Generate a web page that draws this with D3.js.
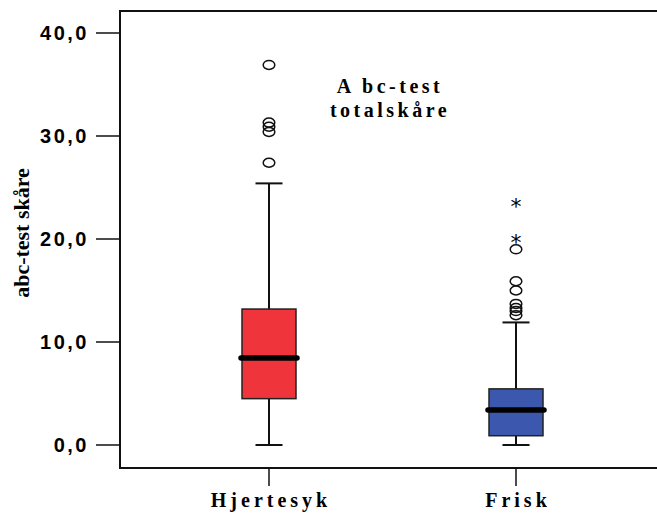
<!DOCTYPE html>
<html>
<head>
<meta charset="utf-8">
<script src="https://cdn.jsdelivr.net/npm/d3@7"></script>
<style>
body { margin: 0; background: #fff; }
</style>
</head>
<body>
<svg width="657" height="514"></svg>
<script>
var svg = d3.select("svg");

// Data
var groups = ["Hjertesyk", "Frisk"];
var q1 = [4.5, 0.9];
var medians = [8.45, 3.4];
var q3 = [13.2, 5.45];
var whiskLow = [0, 0];
var whiskHigh = [25.4, 11.9];
var outliers = [
    [27.4, 30.4, 30.9, 31.3, 36.9],
    [12.6, 13.0, 13.3, 13.7, 15.0, 15.9, 19.0]
];
var extremes = [
    [],
    [20.0, 23.5]
];
var yTicks = [0, 10, 20, 30, 40];
var colors = ["#f0343c", "#3c58ae"];

var plotLeft = 120, plotTop = 11, plotBottom = 468;

var y = d3.scaleLinear().domain([0, 40]).range([445, 33]);
var x = d3.scalePoint().domain(groups).range([269, 516]);

// frame (right edge runs off the page)
svg.append("path")
    .attr("d", "M660," + plotTop + "H" + plotLeft + "V" + plotBottom + "H660")
    .attr("fill", "none")
    .attr("stroke", "#111")
    .attr("stroke-width", 2);

// y axis
var yAxis = svg.append("g");
yAxis.selectAll("line")
    .data(yTicks)
    .enter()
    .append("line")
    .attr("x1", 96)
    .attr("x2", plotLeft)
    .attr("y1", function(d) { return y(d); })
    .attr("y2", function(d) { return y(d); })
    .attr("stroke", "#111")
    .attr("stroke-width", 1.5);
yAxis.selectAll("text")
    .data(yTicks)
    .enter()
    .append("text")
    .attr("x", 89)
    .attr("y", function(d) { return y(d) + 7; })
    .attr("text-anchor", "end")
    .style("font-family", "'Liberation Sans', Arial, sans-serif")
    .style("font-weight", "bold")
    .style("font-size", "20px")
    .style("letter-spacing", "2.5px")
    .text(function(d) { return d.toFixed(1).replace(".", ","); });

svg.append("text")
    .attr("transform", "translate(29,233) rotate(-90)")
    .attr("text-anchor", "middle")
    .style("font-family", "'Liberation Serif', 'Times New Roman', serif")
    .style("font-weight", "bold")
    .style("font-size", "22px")
    .text("abc-test skåre");

// x axis
var xAxis = svg.append("g");
xAxis.selectAll("line")
    .data(groups)
    .enter()
    .append("line")
    .attr("x1", function(d) { return x(d); })
    .attr("x2", function(d) { return x(d); })
    .attr("y1", plotBottom)
    .attr("y2", 486)
    .attr("stroke", "#111")
    .attr("stroke-width", 1.5);
xAxis.selectAll("text")
    .data(groups)
    .enter()
    .append("text")
    .attr("x", function(d) { return x(d) + 2; })
    .attr("y", 507)
    .attr("text-anchor", "middle")
    .style("font-family", "'Liberation Serif', 'Times New Roman', serif")
    .style("font-weight", "bold")
    .style("font-size", "20px")
    .style("letter-spacing", "4px")
    .text(function(d) { return d; });

// title
var title = svg.append("text")
    .attr("text-anchor", "middle")
    .style("font-family", "'Liberation Serif', 'Times New Roman', serif")
    .style("font-weight", "bold")
    .style("font-size", "20px")
    .style("letter-spacing", "3.5px");
title.append("tspan").attr("x", 390).attr("y", 93).text("A bc-test");
title.append("tspan").attr("x", 390).attr("y", 117).text("totalskåre");

// boxes
var boxW = 54, capW = 27;
var box = svg.selectAll("g.box")
    .data(groups)
    .enter()
    .append("g")
    .attr("class", "box");

box.append("line")
    .attr("x1", function(d) { return x(d); })
    .attr("x2", function(d) { return x(d); })
    .attr("y1", function(d, i) { return y(whiskLow[i]); })
    .attr("y2", function(d, i) { return y(whiskHigh[i]); })
    .attr("stroke", "#111")
    .attr("stroke-width", 2);

box.selectAll("line.cap")
    .data(function(d, i) { return [whiskLow[i], whiskHigh[i]].map(function(v) { return { g: d, v: v }; }); })
    .enter()
    .append("line")
    .attr("class", "cap")
    .attr("x1", function(d) { return x(d.g) - capW / 2; })
    .attr("x2", function(d) { return x(d.g) + capW / 2; })
    .attr("y1", function(d) { return y(d.v); })
    .attr("y2", function(d) { return y(d.v); })
    .attr("stroke", "#111")
    .attr("stroke-width", 2);

box.append("rect")
    .attr("x", function(d) { return x(d) - boxW / 2; })
    .attr("width", boxW)
    .attr("y", function(d, i) { return y(q3[i]); })
    .attr("height", function(d, i) { return y(q1[i]) - y(q3[i]); })
    .attr("fill", function(d, i) { return colors[i]; })
    .attr("stroke", "#222")
    .attr("stroke-width", 1.5);

box.append("line")
    .attr("x1", function(d) { return x(d) - boxW / 2 - 1; })
    .attr("x2", function(d) { return x(d) + boxW / 2 + 1; })
    .attr("y1", function(d, i) { return y(medians[i]); })
    .attr("y2", function(d, i) { return y(medians[i]); })
    .attr("stroke", "#000")
    .attr("stroke-width", 5.5)
    .attr("stroke-linecap", "round");

// outliers
box.selectAll("ellipse")
    .data(function(d, i) { return outliers[i].map(function(v) { return { g: d, v: v }; }); })
    .enter()
    .append("ellipse")
    .attr("cx", function(d) { return x(d.g); })
    .attr("cy", function(d) { return y(d.v); })
    .attr("rx", 5.8)
    .attr("ry", 4.5)
    .attr("fill", "none")
    .attr("stroke", "#111")
    .attr("stroke-width", 1.5);

box.selectAll("text.star")
    .data(function(d, i) { return extremes[i].map(function(v) { return { g: d, v: v }; }); })
    .enter()
    .append("text")
    .attr("class", "star")
    .attr("x", function(d) { return x(d.g); })
    .attr("y", function(d) { return y(d.v) + 11; })
    .attr("text-anchor", "middle")
    .style("font-family", "'DejaVu Sans', sans-serif")
    .style("font-size", "22px")
    .text("*");
</script>
</body>
</html>
